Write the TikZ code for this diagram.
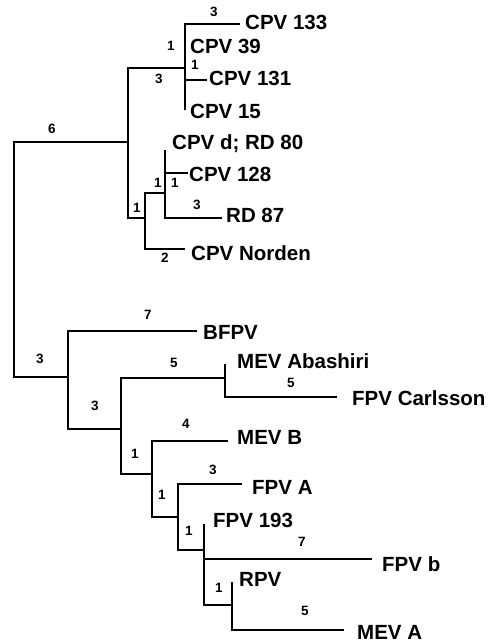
\documentclass[tikz,border=0pt]{standalone}
\usepackage{fontspec}
\setmainfont{Liberation Sans}
\begin{document}
\begin{tikzpicture}[x=1pt,y=-1pt,
  br/.style={line width=2pt},
  tip/.style={anchor=west,inner sep=0pt,font=\fontsize{20.5}{22}\selectfont\bfseries,text height=14.7pt,text depth=0pt},
  bl/.style={inner sep=0pt,font=\fontsize{13.5}{15}\selectfont\bfseries}]
\useasboundingbox (0,0) rectangle (488,643);
% internal nodes
\coordinate (R) at (14,260);
\coordinate (A) at (128,142);
\coordinate (A1) at (185,68);
\coordinate (A2) at (145,218);
\coordinate (A21) at (165,193);
\coordinate (B) at (68,377);
\coordinate (B1) at (121,429);
\coordinate (B11) at (225,378);
\coordinate (B12) at (152,474);
\coordinate (B121) at (178,517);
\coordinate (B1211) at (204,550);
\coordinate (B12111) at (232,605);
% branch ends
\coordinate (e133) at (240,24);
\coordinate (e39) at (185,46);
\coordinate (e131) at (207,80);
\coordinate (e15) at (185,110);
\coordinate (eD) at (165,150);
\coordinate (e128) at (188,173);
\coordinate (e87) at (222,218);
\coordinate (eNor) at (185,249);
\coordinate (eBF) at (197,331);
\coordinate (eAb) at (225,364);
\coordinate (eCar) at (337,397);
\coordinate (eMB) at (228,441);
\coordinate (eFA) at (242,484);
\coordinate (e193) at (204,524);
\coordinate (eFb) at (372,559);
\coordinate (eRPV) at (232,582);
\coordinate (eMA) at (344,630);
% tips
\node[tip] (t133) at (245,22) {CPV 133};
\node[tip] (t39) at (190,46) {CPV 39};
\node[tip] (t131) at (209,78) {CPV 131};
\node[tip] (t15) at (190,111) {CPV 15};
\node[tip] (tD) at (172,142) {CPV d; RD 80};
\node[tip] (t128) at (189,174) {CPV 128};
\node[tip] (t87) at (226,215) {RD 87};
\node[tip] (tNor) at (191,253) {CPV Norden};
\node[tip] (tBF) at (203,332) {BFPV};
\node[tip] (tAb) at (237,361) {MEV Abashiri};
\node[tip] (tCar) at (352,398) {FPV Carlsson};
\node[tip] (tMB) at (237,437) {MEV B};
\node[tip] (tFA) at (252,487) {FPV A};
\node[tip] (t193) at (213,520) {FPV 193};
\node[tip] (tFb) at (382,564) {FPV b};
\node[tip] (tRPV) at (239,579) {RPV};
\node[tip] (tMA) at (357,632) {MEV A};
% branches
\draw[br] (R) |- (A);
\draw[br] (R) |- (B);
\draw[br] (A) |- (A1);
\draw[br] (A) |- (A2);
\draw[br] (A1) |- (e133);
\draw[br] (A1) |- (e39);
\draw[br] (A1) |- (e131);
\draw[br] (A1) |- (e15);
\draw[br] (A2) |- (A21);
\draw[br] (A2) |- (eNor);
\draw[br] (A21) |- (eD);
\draw[br] (A21) |- (e128);
\draw[br] (A21) |- (e87);
\draw[br] (B) |- (eBF);
\draw[br] (B) |- (B1);
\draw[br] (B1) |- (B11);
\draw[br] (B1) |- (B12);
\draw[br] (B11) |- (eAb);
\draw[br] (B11) |- (eCar);
\draw[br] (B12) |- (eMB);
\draw[br] (B12) |- (B121);
\draw[br] (B121) |- (eFA);
\draw[br] (B121) |- (B1211);
\draw[br] (B1211) |- (e193);
\draw[br] (B1211) |- (eFb);
\draw[br] (B1211) |- (B12111);
\draw[br] (B12111) |- (eRPV);
\draw[br] (B12111) |- (eMA);
% branch labels
\node[bl] (l1) at (214,12) {3};
\node[bl] (l2) at (171,46) {1};
\node[bl] (l3) at (195,65) {1};
\node[bl] (l4) at (159,79) {3};
\node[bl] (l5) at (52,129) {6};
\node[bl] (l6) at (137,208) {1};
\node[bl] (l7) at (158,183) {1};
\node[bl] (l8) at (175,183) {1};
\node[bl] (l9) at (197,205) {3};
\node[bl] (l10) at (165,258) {2};
\node[bl] (l11) at (40,359) {3};
\node[bl] (l12) at (148,315) {7};
\node[bl] (l13) at (95,406) {3};
\node[bl] (l14) at (174,363) {5};
\node[bl] (l15) at (186,424) {4};
\node[bl] (l16) at (135,454) {1};
\node[bl] (l17) at (213,470) {3};
\node[bl] (l18) at (291,383) {5};
\node[bl] (l19) at (162,495) {1};
\node[bl] (l20) at (189,531) {1};
\node[bl] (l21) at (302,542) {7};
\node[bl] (l22) at (219,588) {1};
\node[bl] (l23) at (305,611) {5};
\end{tikzpicture}
\end{document}
